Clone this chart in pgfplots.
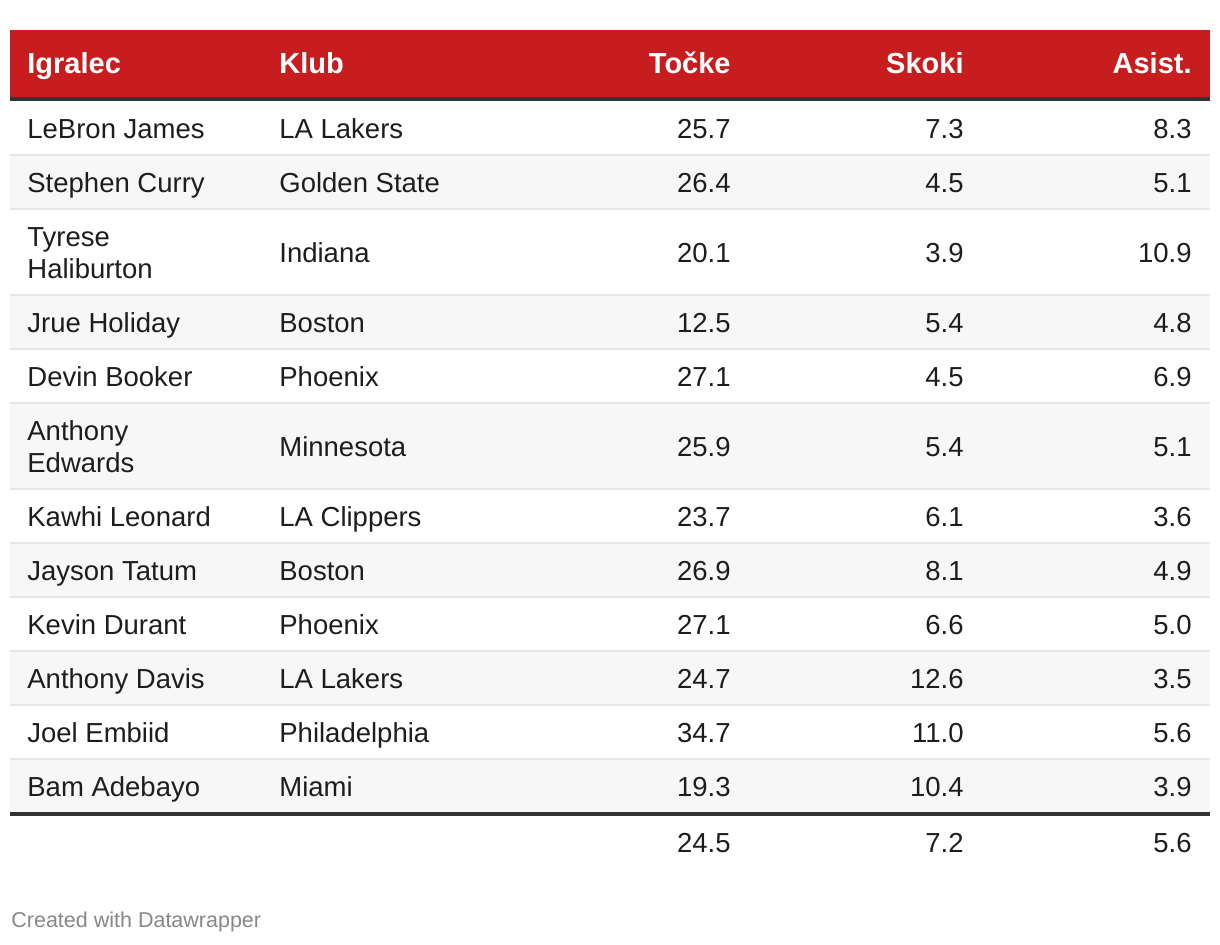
\documentclass[border=0pt]{standalone}
\usepackage{fontspec}
\setmainfont{Liberation Sans}
\usepackage{pgfplots}
\usepackage{pgfplotstable}
\pgfplotsset{compat=1.18}
\definecolor{dwred}{RGB}{199,29,31}
\definecolor{rule}{RGB}{51,51,51}
\definecolor{altrow}{RGB}{247,247,247}
\definecolor{sep}{RGB}{230,230,230}
\definecolor{txt}{RGB}{29,29,29}
\definecolor{foot}{RGB}{136,136,136}

% y = text baseline of the row (pixels from the top)
\pgfplotstableread[col sep=comma]{
y,club,pts,reb,ast
138,LA Lakers,25.7,7.3,8.3
192,Golden State,26.4,4.5,5.1
262,Indiana,20.1,3.9,10.9
332,Boston,12.5,5.4,4.8
386,Phoenix,27.1,4.5,6.9
456,Minnesota,25.9,5.4,5.1
526,LA Clippers,23.7,6.1,3.6
580,Boston,26.9,8.1,4.9
634,Phoenix,27.1,6.6,5.0
688,LA Lakers,24.7,12.6,3.5
742,Philadelphia,34.7,11.0,5.6
796,Miami,19.3,10.4,3.9
}\players

\pgfplotstableread[col sep=comma]{
y,pts,reb,ast
852,24.5,7.2,5.6
}\totals

\pgfplotsset{
  celltext/.style={draw=none, mark=none, nodes near coords,
    point meta=explicit symbolic,
    nodes near coords style={anchor=#1, inner sep=0pt,
      font=\fontsize{13.75}{16}\selectfont, text=txt}},
  headtext/.style={celltext=#1,
    nodes near coords style={font=\bfseries\fontsize{14.5}{17}\selectfont, text=white}},
}
\newcommand{\band}[3]{\addplot[fill=#3, draw=none] coordinates {(10,#1) (1210,#1) (1210,#2) (10,#2)} -- cycle;}

\begin{document}
\begin{tikzpicture}
\begin{axis}[
  x=0.5pt, y=0.5pt, y dir=reverse,
  xmin=0, xmax=1220, ymin=0, ymax=944,
  hide axis, clip=false,
]
% page background
\addplot[fill=white, draw=none] coordinates {(0,0) (1220,0) (1220,944) (0,944)} -- cycle;
% header and zebra rows
\band{30}{98}{dwred}
\band{155}{209}{altrow}
\band{295}{349}{altrow}
\band{403}{489}{altrow}
\band{543}{597}{altrow}
\band{651}{705}{altrow}
\band{759}{813}{altrow}
% row separators
\pgfplotsinvokeforeach{155,209,295,349,403,489,543,597,651,705,759}{
  \addplot[draw=sep, line width=1pt] coordinates {(10,#1) (1210,#1)};
}
\addplot[draw=rule, line width=1.85pt] coordinates {(10,99.3) (1210,99.3)};
\addplot[draw=rule, line width=1.85pt] coordinates {(10,813.9) (1210,813.9)};

% header
\addplot[headtext=base west] coordinates {(27,73) [Igralec] (279,73) [Klub]};
\addplot[headtext=base east] coordinates {(731,73) [Točke] (964,73) [Skoki] (1192,73) [Asist.]};

% players
\addplot[celltext=base west] coordinates {
  (27,138) [LeBron James] (27,192) [Stephen Curry]
  (27,246) [Tyrese] (27,278) [Haliburton]
  (27,332) [Jrue Holiday] (27,386) [Devin Booker]
  (27,440) [Anthony] (27,472) [Edwards]
  (27,526) [Kawhi Leonard] (27,580) [Jayson Tatum]
  (27,634) [Kevin Durant] (27,688) [Anthony Davis]
  (27,742) [Joel Embiid] (27,796) [Bam Adebayo]
};
\addplot[celltext=base west] table[x expr=279, y=y, meta=club] {\players};
\addplot[celltext=base east] table[x expr=731, y=y, meta=pts] {\players};
\addplot[celltext=base east] table[x expr=964, y=y, meta=reb] {\players};
\addplot[celltext=base east] table[x expr=1192, y=y, meta=ast] {\players};

% averages
\addplot[celltext=base east] table[x expr=731, y=y, meta=pts] {\totals};
\addplot[celltext=base east] table[x expr=964, y=y, meta=reb] {\totals};
\addplot[celltext=base east] table[x expr=1192, y=y, meta=ast] {\totals};

% footer
\addplot[celltext=base west, nodes near coords style={font=\fontsize{10.75}{13}\selectfont, text=foot}]
  coordinates {(11,927) [Created with Datawrapper]};
\end{axis}
\end{tikzpicture}
\end{document}
